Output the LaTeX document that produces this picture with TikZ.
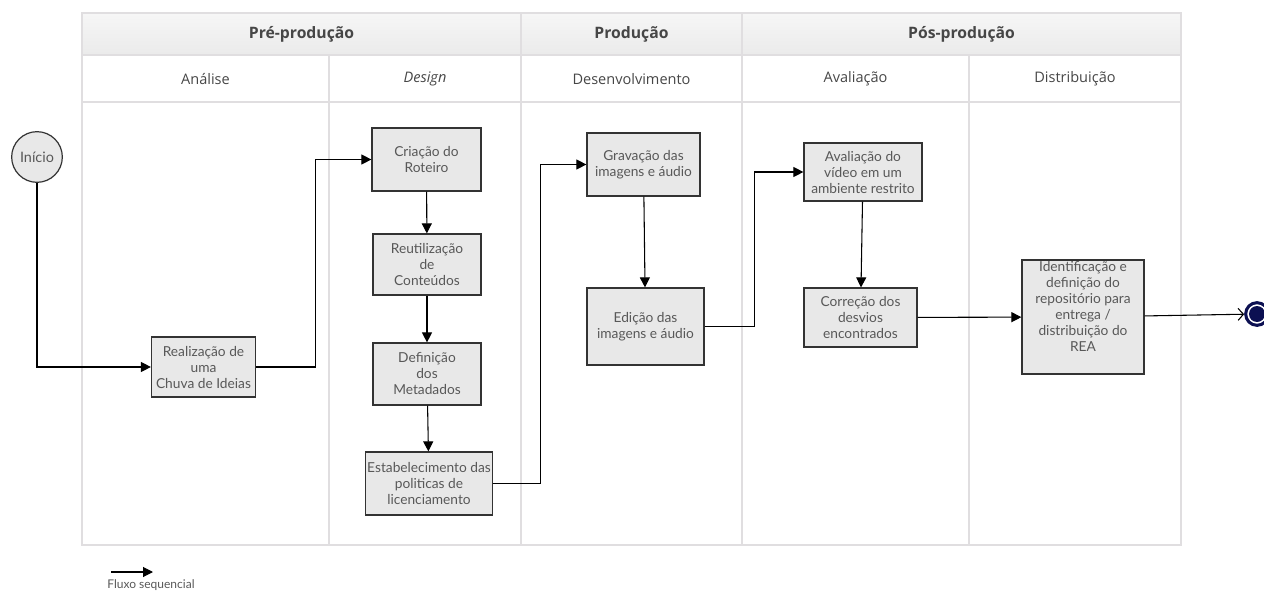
\documentclass[tikz,border=0pt]{standalone}
\usepackage{fontspec}
\setmainfont{Lato}
\newfontfamily\headfont{Open Sans}
\usetikzlibrary{arrows.meta}
\definecolor{boxgray}{RGB}{232,232,232}
\definecolor{gridgray}{RGB}{224,222,224}
\definecolor{textgray}{RGB}{88,88,88}
\definecolor{headtext}{RGB}{70,70,70}
\definecolor{endnavy}{RGB}{12,16,82}

\tikzset{
    atividade/.style={draw=black!80, line width=0.9pt, fill=boxgray, text=textgray, align=center,
        inner sep=1pt, font=\fontsize{10.3}{12}\selectfont},
    flow/.style={-{Triangle[length=7.5pt, width=7.5pt]}, line width=0.8pt},
    grade/.style={draw=gridgray, line width=0.9pt},
    fase/.style={text=headtext, font=\headfont\bfseries\fontsize{11.8}{13}\selectfont},
    etapa/.style={text=headtext, font=\headfont\fontsize{10.9}{12}\selectfont},
}

\begin{document}
\begin{tikzpicture}[x=0.75pt, y=-0.75pt]
    \useasboundingbox (0,0) rectangle (1264,592);

    % cabecalho e raias
    \shade[top color=gray!7, bottom color=gray!16] (82,13) rectangle (1181,55);
    \draw[grade] (82,13) rectangle (1181,545);
    \draw[grade] (82,55) -- (1181,55);
    \draw[grade] (82,102) -- (1181,102);
    \draw[grade] (521,13) -- (521,545);
    \draw[grade] (742,13) -- (742,545);
    \draw[grade] (329,55) -- (329,545);
    \draw[grade] (969,55) -- (969,545);

    \node[fase] (pre) at (301.5,34) {Pré-produção};
    \node[fase] (prod) at (631.5,34) {Produção};
    \node[fase] (pos) at (961.5,34) {Pós-produção};

    \node[etapa] (analise) at (205.5,79) {Análise};
    \node[etapa] (design) at (425,79) {\itshape Design};
    \node[etapa] (desenv) at (631.5,79) {Desenvolvimento};
    \node[etapa] (aval) at (855.5,79) {Avaliação};
    \node[etapa] (distr) at (1075,79) {Distribuição};

    % atividades
    \node[circle, draw=black!80, line width=0.9pt, fill=boxgray, text=textgray, minimum size=38pt, inner sep=0pt,
        font=\fontsize{10.8}{12}\selectfont] (inicio) at (37,157) {Início};
    \node[atividade, minimum width=78pt, minimum height=45pt] (ideias) at (203.5,367) {Realização de\\uma\\Chuva de Ideias};
    \node[atividade, minimum width=81.75pt, minimum height=47.25pt] (roteiro) at (426.5,159.5) {Criação do\\Roteiro};
    \node[atividade, minimum width=81pt, minimum height=45.75pt] (reuso) at (427,264.5) {Reutilização\\de\\Conteúdos};
    \node[atividade, minimum width=81pt, minimum height=46.5pt] (metadados) at (427,374) {Definição\\dos\\Metadados};
    \node[atividade, minimum width=94.5pt, minimum height=47.25pt] (licenca) at (429,483.5) {Estabelecimento das\\politicas de\\licenciamento};
    \node[atividade, minimum width=84.75pt, minimum height=47.25pt] (gravacao) at (643.5,164.5) {Gravação das\\imagens e áudio};
    \node[atividade, minimum width=87.75pt, minimum height=57.75pt] (edicao) at (645.5,326.5) {Edição das\\imagens e áudio};
    \node[atividade, minimum width=88.5pt, minimum height=43.5pt] (teste) at (863,172) {Avaliação do\\vídeo em um\\ambiente restrito};
    \node[atividade, minimum width=84.75pt, minimum height=44.25pt] (correcao) at (860.5,317.5) {Correção dos\\desvios\\encontrados};
    \node[atividade, minimum width=91.5pt, minimum height=84pt] (repositorio) at (1083,317) {Identificação e\\definição do\\repositório para\\entrega /\\distribuição do\\REA\\[4pt]};
    \node[circle, draw=endnavy, line width=2.3pt, fill=white, minimum size=17pt, inner sep=0pt,
        path picture={\fill[endnavy] (path picture bounding box.center) circle (6pt);}] (fim) at (1257,314) {};

    % fluxo
    \draw[flow] (inicio) |- (ideias);
    \draw[flow] (ideias.east) -- ++(59,0) |- (roteiro.west);
    \draw[flow] (roteiro) -- (reuso);
    \draw[flow] (reuso) -- (metadados);
    \draw[flow] (metadados) -- (licenca);
    \draw[flow] (licenca.east) -- ++(48,0) |- (gravacao.west);
    \draw[flow] (gravacao) -- (edicao);
    \draw[flow] (edicao.east) -- ++(50,0) |- (teste.west);
    \draw[flow] (teste) -- (correcao);
    \draw[flow] (correcao) -- (repositorio);
    \draw[-{Straight Barb[length=4pt, width=9pt]}, line width=0.8pt] (repositorio) -- (fim);

    % legenda
    \coordinate (legA) at (111,572);
    \coordinate (legB) at (153,572);
    \draw[flow] (legA) -- (legB);
    \node[text=textgray, font=\fontsize{9}{10}\selectfont] (legenda) at (151,585) {Fluxo sequencial};
\end{tikzpicture}
\end{document}
